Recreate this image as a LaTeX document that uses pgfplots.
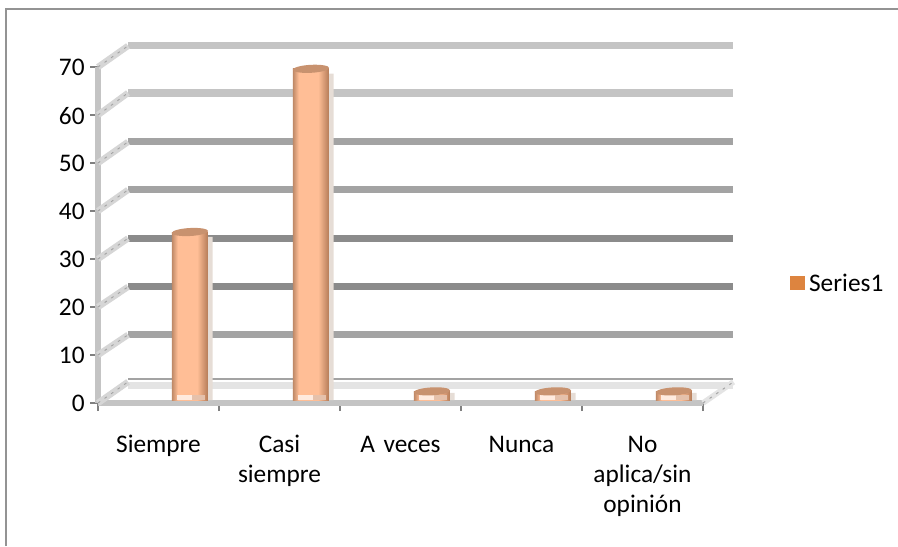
\documentclass[border=0pt]{standalone}
\usepackage{pgfplots}
\usepackage{fontspec}
\setmainfont{Carlito}
\pgfplotsset{compat=1.18}

\definecolor{wallLight}{HTML}{C4C4C4}
\definecolor{wallMid}{HTML}{A3A3A3}
\definecolor{wallDark}{HTML}{8B8B8B}
\definecolor{floorBand}{HTML}{E4E4E4}
\definecolor{barEdgeL}{HTML}{C08A68}
\definecolor{barMid}{HTML}{FFBE96}
\definecolor{barEdgeR}{HTML}{B47C58}
\definecolor{barTop}{HTML}{C8926F}
\definecolor{barShadow}{HTML}{E6DDD6}
\definecolor{legendOrange}{HTML}{DD843F}

% flat lit centre with darker rims
\pgfdeclarehorizontalshading{cylbody}{100bp}{
  color(0bp)=(barEdgeL); color(25bp)=(barEdgeL); color(33bp)=(barMid);
  color(60bp)=(barMid); color(75bp)=(barEdgeR); color(100bp)=(barEdgeR)}

% tilted top of a cylinder (1px = 0.75pt)
\pgfdeclareplotmark{cyltop}{%
  \pgfpathellipse{\pgfpointorigin}{\pgfpoint{13.6pt}{0.7pt}}{\pgfpoint{0pt}{3pt}}%
  \pgfusepathqfill}
% lit patches at the foot of a cylinder
\pgfdeclareplotmark{cylfoot}{%
  \pgfsetfillcolor{white!70!barMid}%
  \pgfpathrectangle{\pgfpoint{-9.5pt}{0pt}}{\pgfpoint{11pt}{3.4pt}}\pgfusepathqfill
  \pgfsetfillcolor{white!30!barMid!80!gray}%
  \pgfpathrectangle{\pgfpoint{1.5pt}{0pt}}{\pgfpoint{9.5pt}{3.8pt}}\pgfusepathqfill}

% one shaded cylinder body: each bar is its own plot, so it gets its own gradient
\pgfplotsset{cylinder body/.style={forget plot, ybar, bar width=27pt, bar shift=0pt, draw=none,
  shade, shading=cylbody, xshift=23.6pt, yshift=2.25pt}}

\begin{document}
\begin{tikzpicture}
\path[use as bounding box] (0,0) rectangle (673.5pt,-409.5pt);
\begin{axis}[
  at={(73.5pt,-302.25pt)}, anchor=south west,
  scale only axis, width=453.75pt, height=252pt,
  xmin=-0.5, xmax=4.5, ymin=0, ymax=70,
  clip=false,
  axis x line*=bottom, axis y line*=left,
  axis line style={line width=4.2pt, wallLight, -},
  xtick={-0.5,0.5,1.5,2.5,3.5,4.5},
  xticklabels={},
  extra x ticks={0,1,2,3,4},
  extra x tick labels={\strut Siempre,{\strut Casi\\siempre},\strut A veces,\strut Nunca,{\strut No\\aplica/sin\\opinión}},
  extra x tick style={tick style={draw=none}},
  ytick={0,10,...,70},
  tick align=outside,
  major tick length=6pt,
  tick style={draw=gray, line width=0.9pt},
  tick label style={font=\fontsize{19}{22.5}\selectfont, text=black},
  /pgf/number format/assume math mode=true,
  xticklabel style={align=center, text width=90pt, anchor=north, yshift=-12pt},
  yticklabel style={anchor=east, xshift=-0.5pt, yshift=-0.6pt},
  legend style={at={(1.143,0.356)}, anchor=west, draw=none, fill=none,
    font=\fontsize{19}{20}\selectfont, inner sep=0pt,
    legend cell align=left},
  legend image code/.code={\fill[legendOrange] (0pt,-4.6pt) rectangle (11.5pt,5.5pt);},
]
% floor
\addplot[forget plot, floorBand, line width=5.5pt] coordinates {(-0.252,3.7) (4.752,3.7)};
\addplot[forget plot, wallMid, line width=1.6pt] coordinates {(-0.252,5) (4.752,5)};
\addplot[forget plot, floorBand, line width=4.2pt] coordinates {(-0.5,0) (-0.252,4.4)};
\addplot[forget plot, floorBand, line width=4.2pt] coordinates {(4.5,0) (4.752,4.4)};
\addplot[forget plot, wallMid, line width=0.7pt, dash pattern=on 2pt off 4pt] coordinates {(4.5,0) (4.752,4.4)};
% rear wall gridlines
\addplot[forget plot, wallLight, line width=5.4pt] coordinates {(-0.252,74.4) (4.752,74.4)};
\addplot[forget plot, wallLight, line width=5.4pt] coordinates {(-0.252,64.6) (4.752,64.6)};
\addplot[forget plot, wallMid, line width=5.4pt] coordinates {(-0.252,54.4) (4.752,54.4)};
\addplot[forget plot, wallMid, line width=5.4pt] coordinates {(-0.252,44.4) (4.752,44.4)};
\addplot[forget plot, wallDark, line width=5.4pt] coordinates {(-0.252,34.3) (4.752,34.3)};
\addplot[forget plot, wallDark, line width=5.4pt] coordinates {(-0.252,24.2) (4.752,24.2)};
\addplot[forget plot, wallMid, line width=5.4pt] coordinates {(-0.252,14.2) (4.752,14.2)};
% side wall gridlines
\foreach \v/\w in {0/4.4,10/14.2,20/24.2,30/34.3,40/44.4,50/54.4,60/64.6,70/74.4}{
  \edef\temp{\noexpand\addplot[forget plot, wallLight!70!white, line width=4.8pt] coordinates {(-0.5,\v) (-0.252,\w)};
    \noexpand\addplot[forget plot, wallMid, line width=0.7pt, dash pattern=on 2pt off 4pt] coordinates {(-0.5,\v) (-0.252,\w)};}
  \temp
}
% cylinder shadows
\addplot[forget plot, ybar, bar width=26pt, bar shift=0pt, draw=none, fill=barShadow,
  xshift=27.6pt, yshift=2.25pt] coordinates {(0,34) (1,68) (2,1.5) (3,1.5) (4,1.5)};
% cylinders
\addplot[cylinder body] coordinates {(0,35)};
\addplot[cylinder body] coordinates {(1,69)};
\addplot[cylinder body] coordinates {(2,1.8)};
\addplot[cylinder body] coordinates {(3,1.8)};
\addplot[cylinder body] coordinates {(4,1.8)};
\addplot[forget plot, only marks, mark=cylfoot, xshift=23.6pt, yshift=2.25pt]
  coordinates {(0,0) (1,0) (2,0) (3,0) (4,0)};
\addplot[forget plot, only marks, mark=cyltop, barTop, xshift=23.6pt, yshift=2.25pt]
  coordinates {(0,35) (1,69) (2,1.8) (3,1.8) (4,1.8)};
% legend key only
\addplot[legendOrange, draw=none, mark=none] coordinates {(0,0)};
\addlegendentry{\hspace{1pt}Series1}
\end{axis}
% chart frame
\draw[gray!85, line width=1.1pt] (4.5pt,-409.5pt) -- (4.5pt,-6.8pt) -- (673.5pt,-6.8pt);
\end{tikzpicture}
\end{document}
